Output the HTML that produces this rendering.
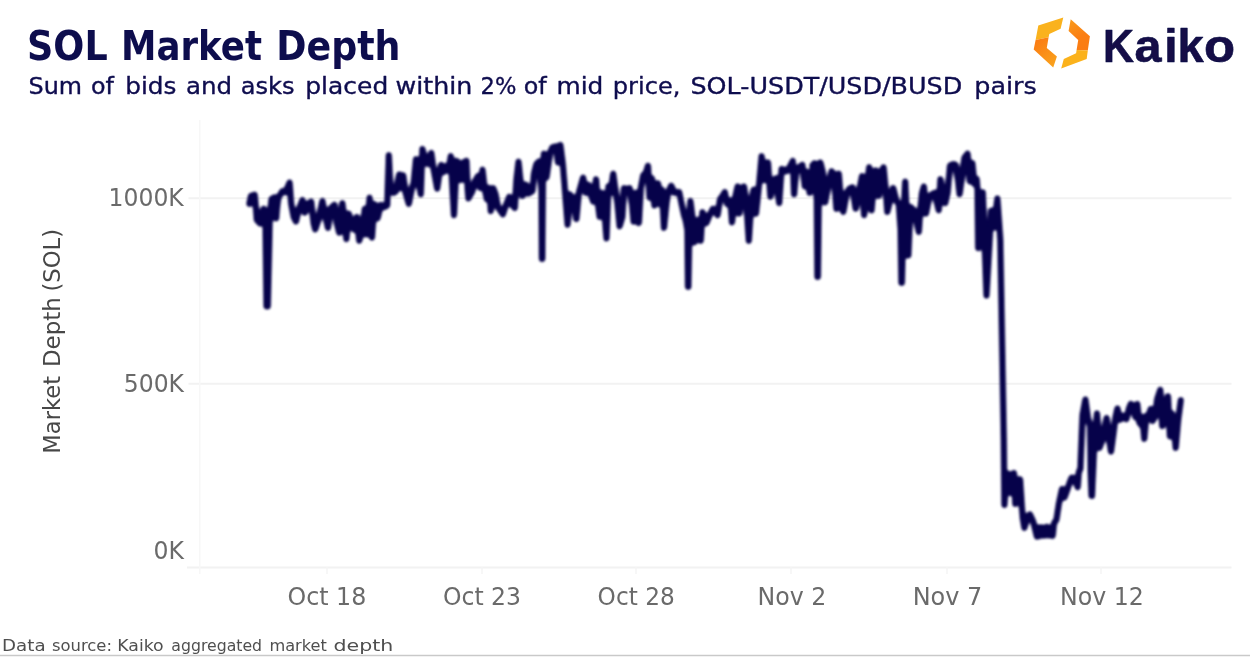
<!DOCTYPE html>
<html><head><meta charset="utf-8"><title>SOL Market Depth</title>
<style>
html,body{margin:0;padding:0;background:#fff;}
body{width:1250px;height:658px;overflow:hidden;font-family:"DejaVu Sans","Liberation Sans",sans-serif;}
svg{display:block}
</style></head><body>
<svg width="1250" height="658" viewBox="0 0 1250 658">
<rect width="1250" height="658" fill="#ffffff"/>
<!-- gridlines -->
<g stroke="#f2f2f2" stroke-width="1.9" fill="none">
<line x1="188.5" y1="198.3" x2="1231.5" y2="198.3"/>
<line x1="188.5" y1="383.8" x2="1231.5" y2="383.8"/>
<line x1="187" y1="567.5" x2="1231.5" y2="567.5" stroke="#f2f2f2"/>
</g>
<line x1="199.8" y1="120" x2="199.8" y2="574" stroke="#f7f7f7" stroke-width="1.5"/>
<g stroke="#f5f5f5" stroke-width="1.5">
<line x1="327" y1="567" x2="327" y2="574"/><line x1="482" y1="567" x2="482" y2="574"/><line x1="636" y1="567" x2="636" y2="574"/>
<line x1="791" y1="567" x2="791" y2="574"/><line x1="947" y1="567" x2="947" y2="574"/><line x1="1101" y1="567" x2="1101" y2="574"/>
</g>
<!-- logo -->
<g id="logo">
<defs>
<linearGradient id="lgA" gradientUnits="userSpaceOnUse" x1="1036" y1="42" x2="1055" y2="66"><stop offset="0" stop-color="#fb7d13"/><stop offset="1" stop-color="#f9a31d"/></linearGradient>
<linearGradient id="lgB" gradientUnits="userSpaceOnUse" x1="1070" y1="20" x2="1086" y2="48"><stop offset="0" stop-color="#f99a1b"/><stop offset="0.6" stop-color="#fb7e13"/><stop offset="1" stop-color="#fb7c13"/></linearGradient>
</defs>
<polygon points="1063.3,17.6 1038.3,25.6 1035.6,39.9 1048.6,37.3 1049.3,34.1 1060.6,28.7" fill="#fab21d"/>
<polygon points="1035.6,39.9 1033.7,49.5 1053.2,67.6 1056.9,56.4 1046.8,47.9 1048.6,37.3" fill="url(#lgA)"/>
<polygon points="1070.7,19.2 1089.9,36.2 1087.8,50.6 1076.6,50 1078.2,39.9 1068.6,30.9" fill="url(#lgB)"/>
<polygon points="1087.8,50.6 1086.7,59.1 1061.2,68.6 1063.8,59.1 1076.1,53.2 1076.6,50" fill="#fbb21b"/>
</g>
<defs><filter id="soft" x="0" y="0" width="1250" height="658" filterUnits="userSpaceOnUse"><feGaussianBlur stdDeviation="0.45"/></filter></defs>
<g filter="url(#soft)">
<text y="60.4" font-family='"DejaVu Sans","Liberation Sans",sans-serif' font-size="40.3" font-weight="bold" fill="#0d0a4e"><tspan x="27.04" textLength="80.64" lengthAdjust="spacingAndGlyphs">SOL</tspan> <tspan x="120.93" textLength="141.01" lengthAdjust="spacingAndGlyphs">Market</tspan> <tspan x="276.21" textLength="124.32" lengthAdjust="spacingAndGlyphs">Depth</tspan></text>
<text y="94.4" font-family='"DejaVu Sans","Liberation Sans",sans-serif' font-size="23.4" font-weight="normal" fill="#0d0a4e" stroke="#0d0a4e" stroke-width="0.35" stroke-linejoin="round"><tspan x="28.51" textLength="53.48" lengthAdjust="spacingAndGlyphs">Sum</tspan> <tspan x="91.05" textLength="22.92" lengthAdjust="spacingAndGlyphs">of</tspan> <tspan x="125.20" textLength="51.20" lengthAdjust="spacingAndGlyphs">bids</tspan> <tspan x="186.02" textLength="46.14" lengthAdjust="spacingAndGlyphs">and</tspan> <tspan x="240.82" textLength="53.74" lengthAdjust="spacingAndGlyphs">asks</tspan> <tspan x="305.29" textLength="82.93" lengthAdjust="spacingAndGlyphs">placed</tspan> <tspan x="395.62" textLength="76.82" lengthAdjust="spacingAndGlyphs">within</tspan> <tspan x="480.53" textLength="35.81" lengthAdjust="spacingAndGlyphs">2%</tspan> <tspan x="523.75" textLength="22.92" lengthAdjust="spacingAndGlyphs">of</tspan> <tspan x="556.49" textLength="46.88" lengthAdjust="spacingAndGlyphs">mid</tspan> <tspan x="612.84" textLength="67.56" lengthAdjust="spacingAndGlyphs">price,</tspan> <tspan x="690.47" textLength="271.75" lengthAdjust="spacingAndGlyphs">SOL-USDT/USD/BUSD</tspan> <tspan x="974.27" textLength="62.51" lengthAdjust="spacingAndGlyphs">pairs</tspan></text>
<text y="61.6" font-family='"Liberation Sans",sans-serif' font-size="46" font-weight="bold" fill="#121047" stroke="#121047" stroke-width="0.6" stroke-linejoin="round"><tspan x="1102.90" textLength="31.04" lengthAdjust="spacingAndGlyphs">K</tspan><tspan x="1134.47" textLength="27.05" lengthAdjust="spacingAndGlyphs">a</tspan><tspan x="1164.19" textLength="13.35" lengthAdjust="spacingAndGlyphs">i</tspan><tspan x="1177.54" textLength="26.18" lengthAdjust="spacingAndGlyphs">k</tspan><tspan x="1204.04" textLength="31.07" lengthAdjust="spacingAndGlyphs">o</tspan></text>
<text y="206.1" font-family='"DejaVu Sans","Liberation Sans",sans-serif' font-size="24.5" font-weight="normal" fill="#6b6b6b"><tspan x="108.57" textLength="75.18" lengthAdjust="spacingAndGlyphs">1000K</tspan></text>
<text y="391.7" font-family='"DejaVu Sans","Liberation Sans",sans-serif' font-size="24.5" font-weight="normal" fill="#6b6b6b"><tspan x="123.81" textLength="60.23" lengthAdjust="spacingAndGlyphs">500K</tspan></text>
<text y="559.3" font-family='"DejaVu Sans","Liberation Sans",sans-serif' font-size="24.5" font-weight="normal" fill="#6b6b6b"><tspan x="153.42" textLength="30.45" lengthAdjust="spacingAndGlyphs">0K</tspan></text>
<text y="605.4" font-family='"DejaVu Sans","Liberation Sans",sans-serif' font-size="24.5" font-weight="normal" fill="#6b6b6b"><tspan x="287.51" textLength="78.85" lengthAdjust="spacingAndGlyphs">Oct 18</tspan></text>
<text y="605.4" font-family='"DejaVu Sans","Liberation Sans",sans-serif' font-size="24.5" font-weight="normal" fill="#6b6b6b"><tspan x="443.01" textLength="78.04" lengthAdjust="spacingAndGlyphs">Oct 23</tspan></text>
<text y="605.4" font-family='"DejaVu Sans","Liberation Sans",sans-serif' font-size="24.5" font-weight="normal" fill="#6b6b6b"><tspan x="597.62" textLength="77.06" lengthAdjust="spacingAndGlyphs">Oct 28</tspan></text>
<text y="605.4" font-family='"DejaVu Sans","Liberation Sans",sans-serif' font-size="24.5" font-weight="normal" fill="#6b6b6b"><tspan x="757.52" textLength="68.78" lengthAdjust="spacingAndGlyphs">Nov 2</tspan></text>
<text y="605.4" font-family='"DejaVu Sans","Liberation Sans",sans-serif' font-size="24.5" font-weight="normal" fill="#6b6b6b"><tspan x="912.71" textLength="69.60" lengthAdjust="spacingAndGlyphs">Nov 7</tspan></text>
<text y="605.4" font-family='"DejaVu Sans","Liberation Sans",sans-serif' font-size="24.5" font-weight="normal" fill="#6b6b6b"><tspan x="1059.92" textLength="83.93" lengthAdjust="spacingAndGlyphs">Nov 12</tspan></text>
<text y="650.8" font-family='"DejaVu Sans","Liberation Sans",sans-serif' font-size="15.9" font-weight="normal" fill="#505050"><tspan x="2.03" textLength="43.56" lengthAdjust="spacingAndGlyphs">Data</tspan> <tspan x="51.96" textLength="60.05" lengthAdjust="spacingAndGlyphs">source:</tspan> <tspan x="117.29" textLength="46.43" lengthAdjust="spacingAndGlyphs">Kaiko</tspan> <tspan x="171.32" textLength="90.78" lengthAdjust="spacingAndGlyphs">aggregated</tspan> <tspan x="269.41" textLength="57.44" lengthAdjust="spacingAndGlyphs">market</tspan> <tspan x="333.46" textLength="59.85" lengthAdjust="spacingAndGlyphs">depth</tspan></text>
<g transform="translate(60.1,451.7) rotate(-90)"><text y="0" font-family='"DejaVu Sans","Liberation Sans",sans-serif' font-size="23.5" fill="#474747"><tspan x="-1.96" textLength="77.66" lengthAdjust="spacingAndGlyphs">Market</tspan> <tspan x="84.64" textLength="69.84" lengthAdjust="spacingAndGlyphs">Depth</tspan> <tspan x="160.12" textLength="62.75" lengthAdjust="spacingAndGlyphs">(SOL)</tspan></text></g>
</g>
<!-- series -->
<defs><filter id="goo" x="0" y="0" width="1250" height="658" filterUnits="userSpaceOnUse" color-interpolation-filters="sRGB">
<feGaussianBlur in="SourceGraphic" stdDeviation="0.95" result="b"/>
<feColorMatrix in="b" type="matrix" values="1 0 0 0 0  0 1 0 0 0  0 0 1 0 0  0 0 0 1.8 -0.4" result="c"/>
<feGaussianBlur in="c" stdDeviation="0.8"/>
</filter></defs>
<g filter="url(#goo)"><path d="M249.3 204.0 L250.9 196.0 L254.7 194.7 L256.0 208.8 L256.8 220.0 L260.0 223.5 L261.6 215.2 L263.7 208.8 L265.3 216.8 L265.5 222.0 L266.5 306.5 L267.8 306.5 L269.8 217.0 L271.5 199.0 L274.4 197.3 L275.5 207.2 L276.2 218.4 L277.1 207.2 L278.4 197.6 L282.4 191.2 L285.6 192.0 L289.6 182.4 L291.2 204.0 L293.6 216.8 L296.0 221.6 L298.4 210.4 L302.4 200.0 L304.8 212.8 L308.0 204.0 L311.2 201.6 L313.6 223.2 L315.2 229.6 L318.4 220.0 L322.4 200.8 L324.8 213.6 L328.0 228.0 L330.4 208.8 L334.4 204.8 L336.8 223.2 L339.2 232.8 L342.4 203.2 L344.8 223.2 L346.4 239.2 L348.8 213.6 L352.0 226.4 L354.4 229.6 L356.8 216.8 L359.2 240.8 L362.4 229.6 L364.8 208.8 L366.4 234.4 L369.6 197.6 L372.0 237.6 L374.4 204.0 L377.6 218.4 L380.8 204.8 L384.0 207.2 L387.2 205.6 L388.8 155.2 L390.4 188.0 L393.6 192.8 L396.0 191.2 L399.2 174.4 L400.8 188.0 L403.2 175.2 L405.6 192.8 L408.8 204.0 L412.0 188.0 L413.6 183.2 L416.0 159.2 L418.4 180.0 L420.8 194.4 L422.4 148.8 L425.6 162.4 L428.0 164.0 L431.3 152.8 L433.2 167.2 L435.6 180.0 L437.2 188.8 L439.6 172.0 L441.2 164.8 L443.6 172.0 L446.0 166.4 L448.4 170.4 L450.8 156.0 L452.4 188.0 L454.0 215.2 L455.3 188.0 L456.4 160.8 L459.6 164.0 L461.2 180.0 L463.6 162.4 L466.5 160.8 L467.6 188.0 L468.4 198.4 L472.4 191.2 L474.8 181.6 L478.0 176.0 L480.4 188.0 L482.5 169.6 L484.4 186.4 L486.8 199.2 L489.2 188.0 L490.8 211.2 L493.2 188.0 L495.6 194.4 L498.0 207.2 L502.8 214.4 L505.2 207.2 L509.2 196.8 L511.6 204.0 L514.8 208.0 L516.4 180.0 L518.5 161.6 L520.4 180.0 L522.5 196.0 L526.0 184.8 L528.4 193.6 L532.4 191.2 L534.0 173.6 L536.4 164.0 L538.8 161.6 L540.4 176.0 L541.5 190.0 L541.9 259.0 L542.3 259.0 L543.0 175.0 L543.9 153.6 L546.5 177.6 L550.0 152.8 L552.4 147.2 L556.4 146.4 L558.0 162.4 L560.4 144.8 L562.8 164.0 L564.4 183.2 L566.0 204.0 L567.6 224.8 L570.0 194.4 L571.6 207.2 L574.0 197.6 L576.4 219.2 L578.8 192.8 L583.1 177.6 L586.0 192.8 L588.4 184.8 L590.8 194.4 L593.2 201.6 L596.1 179.2 L598.0 204.0 L599.6 216.8 L602.0 192.8 L604.4 212.0 L606.5 238.4 L608.4 186.4 L610.5 192.8 L613.2 173.6 L615.6 191.2 L617.5 204.0 L619.6 226.4 L622.4 216.8 L624.0 188.0 L627.2 189.6 L629.6 188.0 L632.0 204.0 L633.6 221.6 L636.0 192.8 L638.9 223.2 L640.8 188.0 L643.2 175.2 L645.6 173.6 L648.0 165.6 L649.6 197.6 L652.0 178.4 L654.4 205.6 L658.1 183.2 L660.0 204.0 L661.9 189.6 L664.0 228.0 L666.4 204.0 L668.0 192.8 L671.2 185.6 L674.4 192.8 L679.2 192.0 L681.6 204.0 L684.0 215.2 L685.6 220.0 L687.4 230.0 L688.0 287.0 L688.4 287.0 L689.5 220.0 L690.4 200.8 L692.8 220.0 L694.4 242.4 L696.8 229.6 L698.4 220.0 L700.8 240.8 L702.4 212.0 L706.4 223.2 L709.6 215.2 L712.8 208.8 L716.0 210.4 L717.6 215.2 L720.0 199.2 L722.4 196.0 L724.8 192.0 L727.2 204.0 L730.4 200.8 L732.0 222.4 L734.4 200.8 L737.6 186.4 L739.2 213.6 L741.6 192.8 L744.0 186.4 L746.4 204.0 L748.8 240.8 L751.2 204.0 L753.6 189.6 L756.0 213.6 L759.2 183.2 L761.6 156.0 L764.8 180.0 L768.0 162.4 L770.4 196.8 L772.8 181.6 L776.0 178.4 L779.2 203.2 L781.6 168.8 L786.4 171.2 L789.6 167.2 L792.8 160.8 L794.1 194.4 L796.0 172.0 L799.2 167.2 L802.4 164.8 L804.8 186.4 L807.2 172.0 L809.6 192.8 L812.0 172.0 L814.4 163.2 L812.4 165.6 L814.8 164.0 L816.8 200.0 L817.4 277.0 L817.9 277.0 L818.8 200.0 L820.4 162.4 L822.8 172.0 L825.2 202.4 L828.4 184.8 L831.6 171.2 L834.0 175.2 L836.4 208.8 L838.8 173.6 L841.2 204.0 L843.3 212.0 L846.8 192.8 L849.2 188.8 L852.4 187.2 L855.6 208.8 L858.8 192.8 L862.0 176.0 L864.1 215.2 L866.8 188.0 L869.2 167.2 L871.6 210.4 L874.0 180.0 L875.6 170.4 L878.8 196.0 L881.2 172.0 L883.6 167.2 L886.0 192.8 L887.3 212.0 L890.0 200.8 L893.2 188.0 L896.4 200.8 L898.8 204.0 L900.6 230.0 L901.4 283.0 L901.9 283.0 L903.5 215.0 L905.2 181.6 L907.2 225.0 L907.8 255.5 L908.4 255.5 L910.0 215.0 L910.8 207.2 L914.0 210.4 L916.4 220.0 L918.8 232.0 L920.4 208.8 L922.0 192.8 L923.9 186.4 L926.0 213.6 L929.2 197.6 L931.6 194.4 L934.8 192.8 L936.4 200.8 L938.8 210.4 L940.4 179.2 L942.8 194.4 L945.2 203.2 L947.6 192.8 L950.0 165.6 L953.2 164.0 L955.6 164.8 L958.0 180.0 L959.6 194.4 L962.0 176.8 L964.4 157.6 L967.6 153.6 L969.9 181.3 L972.4 163.1 L974.3 183.8 L976.7 178.9 L977.5 189.8 L978.2 248.2 L982.8 192.3 L986.5 295.6 L991.3 210.5 L993.8 227.5 L997.4 198.4 L999.8 232.4 L1000.3 240.0 L1003.8 440.0 L1004.4 505.0 L1006.8 473.6 L1010.0 474.4 L1010.8 492.8 L1014.0 472.8 L1015.3 504.0 L1018.0 488.0 L1020.1 479.2 L1022.0 508.8 L1022.8 518.4 L1024.4 528.0 L1027.6 516.8 L1030.0 514.4 L1033.2 521.6 L1035.6 531.2 L1036.9 536.8 L1038.3 527.7 L1039.8 536.0 L1041.2 527.2 L1042.8 528.3 L1044.1 535.7 L1045.5 527.7 L1047.0 526.7 L1048.6 535.4 L1050.0 528.3 L1051.4 529.6 L1052.7 536.0 L1054.0 523.2 L1056.4 520.0 L1058.8 504.0 L1062.0 488.8 L1064.4 497.6 L1066.8 491.2 L1070.0 481.6 L1071.6 477.6 L1074.8 478.4 L1077.7 487.2 L1078.8 472.0 L1080.4 468.8 L1081.5 440.0 L1082.5 415.0 L1085.4 399.3 L1088.0 418.5 L1090.2 426.2 L1090.6 470.0 L1091.5 496.0 L1092.0 496.0 L1094.0 450.0 L1097.0 413.4 L1099.5 448.0 L1102.7 439.0 L1106.6 417.9 L1109.1 439.0 L1111.0 451.8 L1113.6 432.6 L1115.5 417.2 L1117.4 408.3 L1120.0 419.8 L1123.2 416.0 L1126.4 419.2 L1129.0 408.3 L1130.9 403.8 L1134.1 410.8 L1135.4 417.2 L1137.3 403.8 L1139.2 422.4 L1141.1 424.9 L1142.4 417.2 L1144.3 439.0 L1146.2 416.0 L1148.8 414.7 L1150.7 408.9 L1152.6 421.1 L1155.2 416.0 L1157.1 399.3 L1160.3 389.7 L1162.2 426.2 L1164.8 416.0 L1168.0 396.1 L1169.9 436.4 L1171.8 413.4 L1173.8 426.2 L1175.7 448.0 L1178.2 419.8 L1180.8 400.0" fill="none" stroke="#06024a" stroke-width="6.2" stroke-linejoin="round" stroke-linecap="round"/></g>
<line x1="0" y1="655.5" x2="1250" y2="655.5" stroke="#c9c9c9" stroke-width="1.5"/>
</svg>
</body></html>
